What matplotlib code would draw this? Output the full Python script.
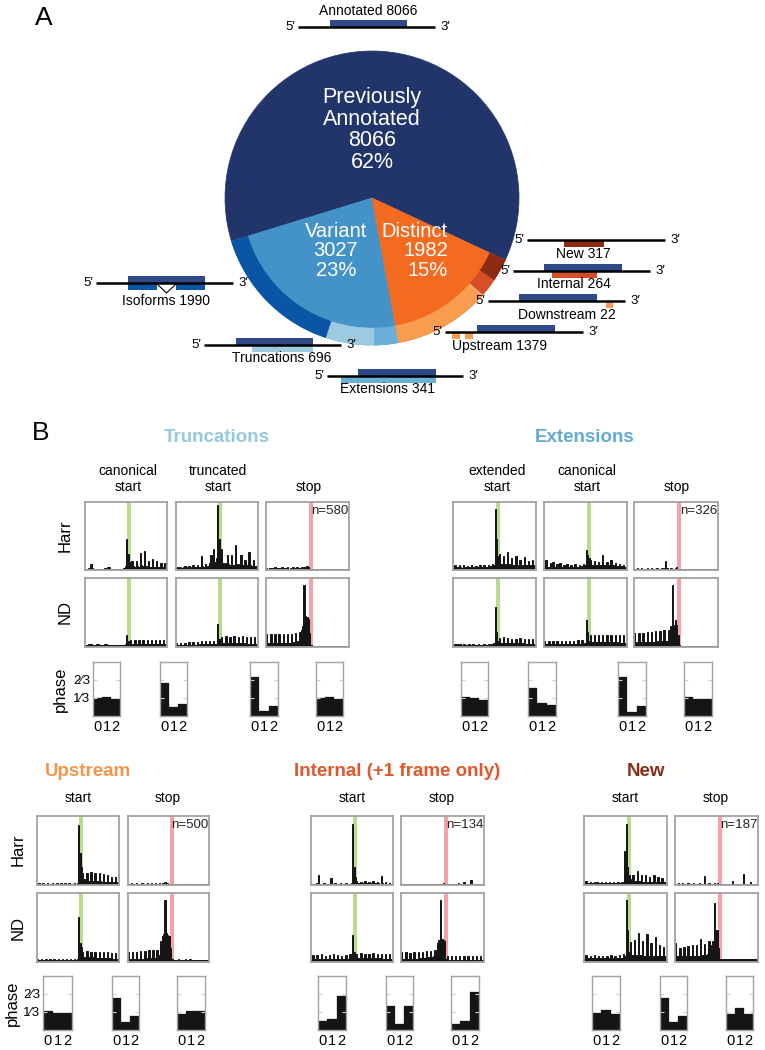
import matplotlib
matplotlib.use("Agg")
import matplotlib.pyplot as plt
from matplotlib.patches import Rectangle
import numpy as np

plt.rcParams["font.family"] = ["Liberation Sans", "DejaVu Sans"]
W, H = 765, 1050

# ---------------- data: panel A ----------------
main_labels = ["Previously\nAnnotated", "Variant", "Distinct"]
main_counts = [8066, 3027, 1982]
ring_labels = ["Annotated", "Isoforms", "Truncations", "Extensions", "Upstream", "Downstream", "Internal", "New"]
ring_counts = [8066, 1990, 696, 341, 1379, 22, 264, 317]

# ---------------- data: panel B profiles (per cent of panel height, 60 nt bins) ----------------
T_harr_cs = [2,2,3,2,9,3,2,2,2,2,2,2,2,2,3,2,5,4,2,2,
             2,2,2,2,2,2,2,2,3,6,45,24,12,7,13,6,5,13,6,5,
             25,7,6,28,6,5,13,5,5,16,5,5,13,5,4,10,4,4,10,4]
T_harr_ts = [3,4,3,5,3,4,6,3,4,6,3,4,7,4,5,8,4,5,20,6,
             5,9,5,6,10,22,8,31,12,18,95,45,20,31,10,9,10,22,9,8,
             22,8,8,37,9,8,9,22,8,7,15,7,7,27,7,6,15,6,6,10]
T_harr_stop = [3,2,3,3,2,3,4,2,3,3,2,4,3,2,3,4,2,3,3,4,
               2,3,5,3,3,4,3,5,4,6,5,2,1,1,1,1,1,1,1,1,
               1,1,1,1,1,1,1,1,1,1,1,1,1,1,1,1,1,1,1,1]
T_nd_cs = [3,3,4,4,4,3,3,3,4,4,3,3,3,3,4,5,3,3,3,3,
           3,3,3,3,3,3,3,3,3,4,17,8,5,10,4,4,10,4,4,10,
           4,4,10,4,4,10,4,4,10,4,4,10,4,4,10,4,4,10,4,4]
T_nd_ts = [6,3,3,6,3,3,6,3,3,7,3,3,7,3,3,7,3,4,8,4,
           4,8,4,4,9,4,4,9,5,5,34,12,6,15,6,6,16,6,6,15,
           6,6,16,6,6,15,6,6,16,6,6,15,5,5,15,5,5,14,5,5]
T_nd_stop = [19,6,6,19,6,6,19,6,6,19,6,6,19,6,6,19,6,6,19,7,
             7,20,8,9,22,25,31,90,45,43,40,20,3,1,1,1,1,2,1,1,
             1,1,1,1,1,1,1,1,1,1,1,1,1,1,1,1,1,1,1,1]

E_harr_es = [4,8,4,4,7,4,3,8,4,4,6,4,4,7,4,4,6,4,4,8,
             4,5,7,5,5,8,5,6,9,8,90,46,20,23,9,9,21,9,9,26,
             9,8,18,8,8,20,8,8,14,8,8,19,7,7,13,7,7,15,7,7]
E_harr_cs = [5,14,5,5,10,5,12,5,5,9,5,11,5,5,8,5,9,5,5,8,
             5,5,9,5,5,8,5,6,9,8,30,22,18,14,8,8,13,8,8,12,
             8,8,22,8,8,12,7,7,14,7,7,11,6,6,9,6,6,8,5,5]
E_harr_stop = [2,2,3,2,2,3,2,2,2,3,2,2,3,2,2,2,3,2,2,3,
               2,3,13,3,2,2,3,2,2,3,4,2,1,1,1,1,1,1,1,1,
               1,1,1,1,1,1,1,1,1,1,1,1,1,1,1,1,1,1,1,1]
E_nd_es = [3,4,4,5,4,4,3,4,4,3,3,4,3,3,4,3,3,3,4,3,
           3,3,4,3,3,4,3,4,5,6,58,22,9,13,6,6,14,6,6,13,
           6,6,12,6,6,11,6,6,13,6,6,12,5,5,11,5,5,12,5,5]
E_nd_cs = [9,4,4,9,4,4,9,4,4,8,4,4,9,4,4,9,4,4,9,4,
           4,9,4,4,10,4,5,10,5,6,39,22,9,17,7,7,17,7,7,17,
           7,7,17,7,7,17,7,7,18,7,7,17,7,7,18,6,6,17,6,6]
E_nd_stop = [21,7,7,21,7,7,21,7,7,22,7,7,22,7,7,23,8,8,23,8,
             8,24,9,9,25,10,30,90,32,39,32,18,3,1,1,1,1,1,1,1,
             1,1,1,1,1,1,1,1,1,1,1,1,1,1,1,1,1,1,1,1]

U_harr_s = [2,3,2,2,3,2,2,3,2,2,2,3,2,2,3,2,2,3,2,2,
            3,2,2,3,2,2,2,3,2,3,87,46,26,17,8,6,18,6,6,19,
            6,6,17,6,6,18,6,5,16,5,5,14,5,5,12,5,5,11,4,4]
U_harr_stop = [2,2,3,2,2,2,3,2,2,2,3,2,2,2,3,2,2,3,2,2,
               3,2,2,3,2,3,3,4,3,3,2,1,1,1,1,1,1,1,1,1,
               1,1,1,1,1,1,1,1,1,1,1,1,1,1,1,1,1,1,1,1]
U_nd_s = [4,3,3,4,3,3,4,3,3,4,3,3,4,3,3,4,3,3,4,3,
          3,4,3,3,4,3,3,4,3,4,65,27,22,15,7,7,16,7,7,15,
          7,7,15,6,6,15,6,6,14,6,6,14,6,6,13,5,5,13,5,5]
U_nd_stop = [15,5,5,15,5,5,15,5,5,16,5,5,16,6,6,17,6,6,18,6,
             6,18,7,10,30,38,40,90,42,39,38,20,4,3,3,3,3,4,3,3,
             3,3,4,3,3,5,4,3,3,3,3,3,3,3,3,3,3,3,3,3]

I_harr_s = [2,2,2,2,3,14,2,2,2,3,2,2,2,2,10,2,2,3,2,2,
            2,3,2,2,2,3,2,2,2,3,88,26,12,6,3,3,5,3,3,6,
            3,3,5,3,3,6,3,3,4,3,2,13,3,2,4,2,2,3,2,2]
I_harr_stop = [1,1,1,1,1,2,1,1,1,1,1,1,1,2,1,1,1,1,1,1,
               1,1,2,1,1,1,1,1,2,1,3,1,1,1,1,1,1,1,1,1,
               1,3,1,1,1,4,1,1,1,1,7,1,1,1,1,1,1,1,1,1]
I_nd_s = [5,10,5,5,10,5,5,11,5,5,9,5,5,10,5,5,11,5,5,10,
          5,5,9,5,5,10,5,5,11,6,39,14,7,12,6,6,13,6,6,12,
          6,6,12,6,6,13,6,6,12,6,6,12,5,5,12,5,5,11,5,5]
I_nd_stop = [14,5,5,14,5,5,13,5,5,14,5,5,14,6,6,15,6,6,16,7,
             7,16,7,8,18,10,28,32,90,33,32,30,4,8,3,3,9,3,3,9,
             3,3,9,3,3,8,3,3,9,3,3,8,3,3,8,3,3,8,3,3]

N_harr_s = [3,6,3,3,5,3,3,4,3,5,3,3,4,3,3,5,3,3,4,3,
            3,4,3,3,5,3,3,4,3,50,88,26,14,8,6,14,6,6,21,6,
            6,14,5,5,15,5,5,12,5,5,14,5,5,12,4,4,10,4,4,9]
N_harr_stop = [2,2,3,2,2,3,2,2,2,3,2,2,2,3,2,2,2,3,2,2,
               2,13,2,2,3,2,2,2,3,2,3,2,1,1,1,1,2,1,1,1,
               1,6,1,1,1,1,1,1,1,16,1,1,1,1,4,1,1,1,1,1]
N_nd_s = [6,10,6,6,9,6,6,10,6,6,9,6,6,8,6,6,9,6,6,10,
          6,6,9,6,6,10,6,6,11,8,90,46,15,29,10,10,32,10,10,42,
          10,10,30,9,9,40,9,9,28,9,9,36,8,8,25,8,8,22,8,8]
N_nd_stop = [27,8,8,20,8,8,22,8,8,23,8,8,24,9,9,25,9,9,34,10,
             10,26,10,12,30,14,25,30,85,46,46,20,4,4,4,5,4,4,4,4,
             4,4,4,4,5,4,4,4,4,4,4,4,4,4,4,4,4,4,4,4]

phase_codon = [0, 1, 2]
phase_trunc = [[0.33, 0.35, 0.31], [0.62, 0.16, 0.22], [0.73, 0.09, 0.18], [0.33, 0.35, 0.32]]
phase_ext = [[0.35, 0.34, 0.30], [0.52, 0.24, 0.21], [0.73, 0.08, 0.18], [0.36, 0.32, 0.32]]
phase_up = [[0.36, 0.32, 0.32], [0.60, 0.14, 0.26], [0.30, 0.35, 0.35]]
phase_int = [[0.17, 0.20, 0.63], [0.44, 0.12, 0.44], [0.12, 0.17, 0.71]]
phase_new = [[0.32, 0.37, 0.29], [0.60, 0.14, 0.26], [0.30, 0.40, 0.30]]

# ---------------- colours ----------------
NAVY = "#22356a"; BOXNAVY = "#2f4a86"
C_VAR = "#4393c9"; C_ISO = "#0b56a4"; C_TRU = "#9ecae1"; C_EXT = "#6baed6"
C_DIS = "#f26b21"; C_UP = "#f89d50"; C_DOWN = "#f9b477"; C_INT = "#d84f27"; C_NEW = "#8a2b12"
GREEN = "#b7dc8c"; PINK = "#f4a1a7"; SPINE = "#a3a3a3"; BAR = "#151515"

fig = plt.figure(figsize=(W/100, H/100), dpi=100)


def pax(x0, y0, x1, y1):
    return fig.add_axes([x0/W, 1-y1/H, (x1-x0)/W, (y1-y0)/H])


# ---------------- pie: full inner pie, ring drawn on top for the sub-classes ----------------
ax_pie = pax(225, 51, 519, 345)
w1, _ = ax_pie.pie(main_counts, radius=1.0, startangle=-25, counterclock=True,
                   colors=[NAVY, C_VAR, C_DIS], wedgeprops=dict(lw=0.5))
w2, _ = ax_pie.pie(ring_counts, radius=1.0, startangle=-25, counterclock=True,
                   colors=[NAVY, C_ISO, C_TRU, C_EXT, C_UP, C_DOWN, C_INT, C_NEW],
                   wedgeprops=dict(width=0.115, lw=0.5))
for w in list(w1) + list(w2):
    w.set_edgecolor(w.get_facecolor())
w2[0].set_visible(False)
ax_pie.set_xlim(-1, 1); ax_pie.set_ylim(-1, 1); ax_pie.set_aspect("auto")


def profile(x0, y0, x1, y1, vals, kind, ntext=None):
    ax = pax(x0, y0, x1, y1)
    ax.axvspan(30.3, 33.3, color=GREEN if kind == "start" else PINK, lw=0, zorder=0)
    ax.stairs(vals, np.arange(len(vals)+1)-0.5, fill=True, facecolor=BAR, edgecolor=BAR, lw=0.7, zorder=2)
    ax.set_xlim(-0.5, len(vals)-0.5); ax.set_ylim(0, 100)
    ax.set_xticks([]); ax.set_yticks([])
    for s in ax.spines.values():
        s.set_color(SPINE); s.set_linewidth(1.3); s.set_zorder(3)
    if ntext:
        ax.text(0.99, 0.95, ntext, transform=ax.transAxes, ha="right", va="top", fontsize=9.5, color="#222222")
    return ax


def phase(x0, x1, y0, y1, vals, labels=False):
    ax = pax(x0, y0, x1, y1)
    ax.bar(phase_codon, vals, width=1.0, color=BAR, edgecolor=BAR, lw=0.2)
    ax.set_xlim(-0.5, 2.5); ax.set_ylim(0, 1)
    ax.set_xticks(phase_codon); ax.set_xticklabels(["0", "1", "2"], fontsize=10.5)
    ax.tick_params(axis="x", length=0, pad=3)
    ax.set_yticks([1/3, 2/3])
    ax.tick_params(axis="y", direction="in", left=True, right=True, length=3, color="#cfcfcf")
    if labels:
        ax.set_yticklabels(["1\u20443", "2\u20443"], fontsize=9.5)
        ax.tick_params(axis="y", pad=2)
    else:
        ax.set_yticklabels([])
    for s in ax.spines.values():
        s.set_color(SPINE); s.set_linewidth(1.0)
    return ax


# ---------------- panel B: truncations / extensions ----------------
top_cols = [(85, 167), (176, 258), (266, 349)]
ext_cols = [(453, 536), (544, 627), (634, 718)]
harr_y = (502, 570); nd_y = (578, 647); ph_y = (662, 716)
kinds3 = ["start", "start", "stop"]
for (x0, x1), v, k, n in zip(top_cols, [T_harr_cs, T_harr_ts, T_harr_stop], kinds3, [None, None, "n=580"]):
    profile(x0, harr_y[0], x1, harr_y[1], v, k, n)
for (x0, x1), v, k in zip(top_cols, [T_nd_cs, T_nd_ts, T_nd_stop], kinds3):
    profile(x0, nd_y[0], x1, nd_y[1], v, k)
for (x0, x1), v, k, n in zip(ext_cols, [E_harr_es, E_harr_cs, E_harr_stop], kinds3, [None, None, "n=326"]):
    profile(x0, harr_y[0], x1, harr_y[1], v, k, n)
for (x0, x1), v, k in zip(ext_cols, [E_nd_es, E_nd_cs, E_nd_stop], kinds3):
    profile(x0, nd_y[0], x1, nd_y[1], v, k)

trunc_ph_x = [(93, 120), (160, 187), (250, 278), (316, 343)]
ext_ph_x = [(461, 488), (528, 556), (618, 646), (684, 712)]
for i, ((x0, x1), v) in enumerate(zip(trunc_ph_x, phase_trunc)):
    phase(x0, x1, ph_y[0], ph_y[1], v, labels=(i == 0))
for (x0, x1), v in zip(ext_ph_x, phase_ext):
    phase(x0, x1, ph_y[0], ph_y[1], v)

# ---------------- panel B: upstream / internal / new ----------------
b_harr = (816, 885); b_nd = (893, 962); b_ph = (976, 1030)
bottom = [
    ([(37, 119), (128, 209)], [U_harr_s, U_harr_stop], [U_nd_s, U_nd_stop], "n=500",
     [(43, 72), (112, 139), (177, 205)], phase_up),
    ([(311, 393), (401, 484)], [I_harr_s, I_harr_stop], [I_nd_s, I_nd_stop], "n=134",
     [(318, 346), (386, 413), (451, 479)], phase_int),
    ([(584, 667), (675, 758)], [N_harr_s, N_harr_stop], [N_nd_s, N_nd_stop], "n=187",
     [(592, 620), (660, 687), (726, 753)], phase_new),
]
for gi, (cols, hv, nv, ntxt, phx, phv) in enumerate(bottom):
    for j, ((x0, x1), v) in enumerate(zip(cols, hv)):
        profile(x0, b_harr[0], x1, b_harr[1], v, ["start", "stop"][j], ntxt if j == 1 else None)
    for j, ((x0, x1), v) in enumerate(zip(cols, nv)):
        profile(x0, b_nd[0], x1, b_nd[1], v, ["start", "stop"][j])
    for j, ((x0, x1), v) in enumerate(zip(phx, phv)):
        phase(x0, x1, b_ph[0], b_ph[1], v, labels=(gi == 0 and j == 0))

# ---------------- overlay: diagrams and text ----------------
ov = fig.add_axes([0, 0, 1, 1])
ov.set_xlim(0, W); ov.set_ylim(H, 0); ov.axis("off"); ov.patch.set_alpha(0)


def gene(xl, xr, y, navy, label, lx, ly, extra=()):
    ov.plot([xl, xr], [y, y], color="black", lw=1.8, solid_capstyle="butt", zorder=3)
    ov.text(xl-3, y, "5\u2032", ha="right", va="center", fontsize=9.5)
    ov.text(xr+5, y, "3\u2032", ha="left", va="center", fontsize=9.5)
    if navy:
        ov.add_patch(Rectangle((navy[0], y-7), navy[1]-navy[0], 7, color=BOXNAVY, lw=0, zorder=2))
    for (a, b, c) in extra:
        ov.add_patch(Rectangle((a, y), b-a, 7, color=c, lw=0, zorder=2))
    ov.text(lx, ly, label, ha="center", va="center", fontsize=10)


cnt = dict(zip(ring_labels, ring_counts))
gene(298, 435, 27, (330, 407), f"Annotated {cnt['Annotated']}", 368, 11)
gene(527, 665, 240, None, f"New {cnt['New']}", 583, 254, [(564, 604, C_NEW)])
gene(513, 650, 271, (544, 622), f"Internal {cnt['Internal']}", 574, 284, [(552, 597, C_INT)])
gene(488, 625, 301, (519, 597), f"Downstream {cnt['Downstream']}", 567, 315, [(606, 613, C_UP)])
gene(445, 583, 332, (477, 555), f"Upstream {cnt['Upstream']}", 500, 346, [(452, 460, C_UP), (465, 473, C_UP)])
gene(96, 233, 283, (128, 205), f"Isoforms {cnt['Isoforms']}", 166, 301, [(128, 157, C_ISO), (176, 205, C_ISO)])
ov.plot([157, 166.5, 176], [284, 293, 284], color="black", lw=0.8, zorder=3)
gene(204, 341, 345, (236, 313), f"Truncations {cnt['Truncations']}", 282, 358, [(252, 313, C_TRU)])
gene(327, 463, 376, (358, 436), f"Extensions {cnt['Extensions']}", 388, 389, [(341, 436, C_EXT)])

tot = sum(main_counts)
pct = [f"{round(100*c/tot)}%" for c in main_counts]
ov.text(372, 130, f"{main_labels[0]}\n{main_counts[0]}\n{pct[0]}", color="white", ha="center", va="center",
        fontsize=15.5, linespacing=1.05, zorder=5)
ov.text(336, 251, f"{main_labels[1]}\n{main_counts[1]}\n{pct[1]}", color="white", ha="center", va="center",
        fontsize=14.5, linespacing=1.02, zorder=5)
ov.text(448, 251, f"{main_labels[2]}\n{main_counts[2]}\n{pct[2]}", color="white", ha="right", va="center",
        fontsize=14.5, linespacing=1.02, multialignment="right", zorder=5)

ov.text(44, 18, "A", fontsize=19, ha="center", va="center")
ov.text(41, 433, "B", fontsize=19, ha="center", va="center")

ov.text(217, 437, "Truncations", color="#97c8e2", fontsize=13.5, fontweight="bold", ha="center", va="center")
ov.text(585, 437, "Extensions", color="#62a9d8", fontsize=13.5, fontweight="bold", ha="center", va="center")
for x, t in zip([128, 218, 309, 497, 587, 677],
                ["canonical\nstart", "truncated\nstart", "stop", "extended\nstart", "canonical\nstart", "stop"]):
    ov.text(x, 479 if "\n" in t else 487, t, ha="center", va="center", fontsize=10, linespacing=1.15)

ov.text(65, 536, "Harr", rotation=90, ha="center", va="center", fontsize=12)
ov.text(65, 612, "ND", rotation=90, ha="center", va="center", fontsize=12)
ov.text(60, 689, "phase", rotation=90, ha="center", va="center", fontsize=12)

ov.text(88, 772, "Upstream", color="#f5954a", fontsize=13.5, fontweight="bold", ha="center", va="center")
ov.text(397, 772, "Internal (+1 frame only)", color="#e0582c", fontsize=13.5, fontweight="bold", ha="center", va="center")
ov.text(646, 772, "New", color="#8b2d16", fontsize=13.5, fontweight="bold", ha="center", va="center")
for x, t in zip([78, 168, 352, 442, 625, 716], ["start", "stop"] * 3):
    ov.text(x, 798, t, ha="center", va="center", fontsize=10)
ov.text(18, 850, "Harr", rotation=90, ha="center", va="center", fontsize=12)
ov.text(18, 928, "ND", rotation=90, ha="center", va="center", fontsize=12)
ov.text(12, 1003, "phase", rotation=90, ha="center", va="center", fontsize=12)

fig.savefig("out.png", dpi=100)
